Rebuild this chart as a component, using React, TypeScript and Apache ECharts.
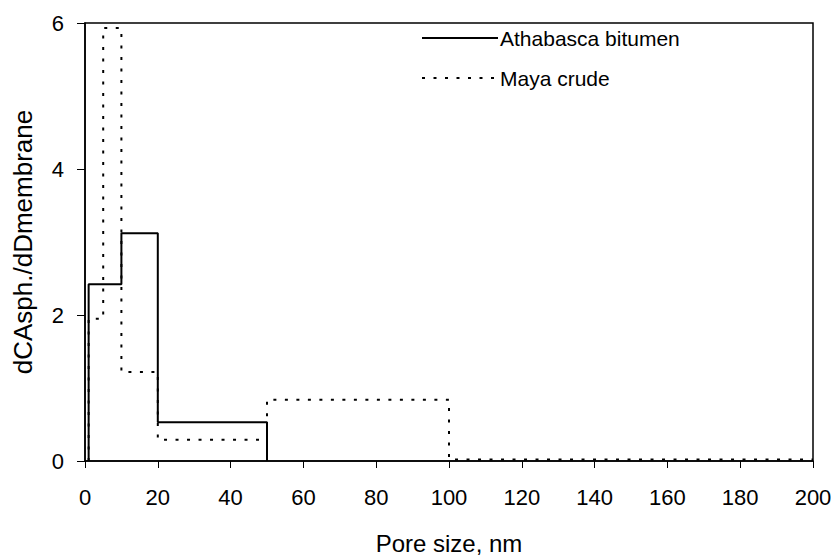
import React, { useEffect, useRef } from "react";
import * as echarts from "echarts";

const athaEdges = [1, 10, 20, 50];
const athaValues = [2.42, 3.12, 0.53];
const mayaEdges = [1, 5, 10, 20, 50, 100, 200];
const mayaValues = [1.95, 5.93, 1.22, 0.29, 0.84, 0.02];
const xTicks = [0, 20, 40, 60, 80, 100, 120, 140, 160, 180, 200];
const yTicks = [0, 2, 4, 6];

function stepPoints(edges: number[], values: number[], closeToZero: boolean) {
  const pts: number[][] = [[edges[0], 0]];
  for (let i = 0; i < values.length; i++) {
    pts.push([edges[i], values[i]]);
    pts.push([edges[i + 1], values[i]]);
  }
  if (closeToZero) pts.push([edges[edges.length - 1], 0]);
  return pts;
}

export default function App() {
  const ref = useRef<HTMLDivElement>(null);
  useEffect(() => {
    if (!ref.current) return;
    const chart = echarts.init(ref.current, undefined, { renderer: "svg" });
    const font = "Liberation Sans, Arial, sans-serif";
    chart.setOption({
      animation: false,
      backgroundColor: "#fff",
      textStyle: { fontFamily: font, color: "#000" },
      grid: {
        left: 85,
        right: 27,
        top: 23,
        bottom: 97,
        show: true,
        borderColor: "#000",
        borderWidth: 1.5,
      },
      legend: {
        orient: "vertical",
        left: 416,
        top: 21,
        itemWidth: 76,
        itemHeight: 14,
        itemGap: 16,
        itemStyle: { opacity: 0 },
        textStyle: { fontSize: 21, lineHeight: 24, fontFamily: font, color: "#000", padding: [0, 0, 0, -3] },
        data: ["Athabasca bitumen", "Maya crude"],
      },
      xAxis: {
        type: "value",
        min: 0,
        max: xTicks[xTicks.length - 1],
        interval: 20,
        name: "Pore size, nm",
        nameLocation: "middle",
        nameGap: 70,
        nameTextStyle: { fontSize: 24, fontFamily: font, color: "#000" },
        axisLine: { lineStyle: { color: "#000", width: 1.5 } },
        axisTick: { show: true, length: 7, lineStyle: { color: "#000" } },
        axisLabel: { fontSize: 22, fontFamily: font, color: "#000", margin: 25 },
        splitLine: { show: false },
      },
      yAxis: {
        type: "value",
        min: 0,
        max: yTicks[yTicks.length - 1],
        interval: 2,
        name: "dCAsph./dDmembrane",
        nameLocation: "middle",
        nameGap: 49,
        nameTextStyle: { fontSize: 26, fontFamily: font, color: "#000" },
        axisLine: { show: true, lineStyle: { color: "#000", width: 1.5 } },
        axisTick: { show: true, length: 8, lineStyle: { color: "#000" } },
        axisLabel: { fontSize: 22, fontFamily: font, color: "#000", margin: 21 },
        splitLine: { show: false },
      },
      series: [
        {
          name: "Athabasca bitumen",
          type: "line",
          data: stepPoints(athaEdges, athaValues, true),
          symbol: "none",
          lineStyle: { color: "#000", width: 2 },
          itemStyle: { color: "#000" },
        },
        {
          name: "Maya crude",
          type: "line",
          data: stepPoints(mayaEdges, mayaValues, false),
          symbol: "none",
          lineStyle: { color: "#000", width: 2, type: [3, 8.5] },
          itemStyle: { color: "#000" },
        },
      ],
    });
    return () => chart.dispose();
  }, []);
  return <div ref={ref} style={{ width: 840, height: 560, position: "absolute", left: 0, top: 0 }} />;
}
